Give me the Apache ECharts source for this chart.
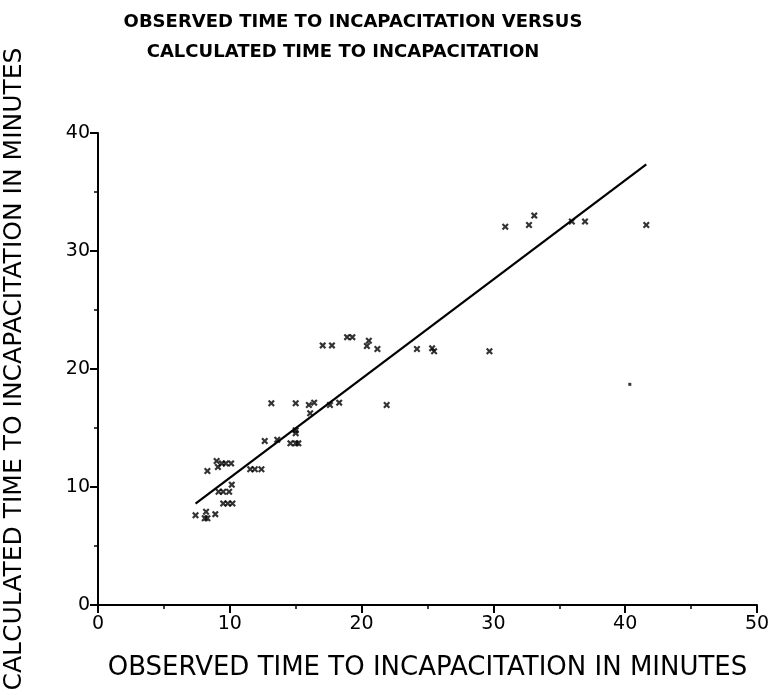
<!DOCTYPE html>
<html>
<head>
<meta charset="utf-8">
<script src="https://cdn.jsdelivr.net/npm/echarts@6/dist/echarts.min.js"></script>
<style>html,body{margin:0;padding:0;background:#fff}#c{width:772px;height:700px}</style>
</head>
<body>
<div id="c"></div>
<script>
// Observed (x) and calculated (y) times to incapacitation, minutes
var observed = [7.4, 8.1, 8.2, 8.3, 8.9, 8.3, 9.0, 9.1, 9.4, 9.7, 10.1, 9.15, 9.5, 9.95, 10.15, 9.5, 9.85, 10.2,
  11.55, 11.9, 12.4, 12.65, 13.6, 13.15, 14.6, 15.0, 15.2, 15.0, 15.0, 15.0, 16.0, 16.4, 16.1, 17.6, 18.3, 21.9,
  17.05, 17.75, 18.9, 19.3, 20.55, 20.4, 21.2, 24.2, 25.35, 25.5, 29.7,
  30.9, 32.7, 33.1, 35.95, 36.95, 41.6];
var calculated = [7.6, 7.35, 7.9, 11.35, 7.7, 7.35, 12.2, 11.7, 12.0, 12.0, 12.0, 9.6, 9.6, 9.6, 10.2, 8.6, 8.6, 8.6,
  11.5, 11.5, 11.5, 13.9, 14.0, 17.1, 13.7, 13.7, 13.7, 14.8, 14.55, 17.1, 16.95, 17.15, 16.25, 16.95, 17.15, 16.95,
  22.0, 22.0, 22.7, 22.7, 22.4, 21.95, 21.7, 21.7, 21.75, 21.5, 21.5,
  32.05, 32.2, 33.0, 32.5, 32.5, 32.2];
// fitted regression line end points
var fitX = [7.4, 41.6];
var fitY = [8.6, 37.35];
// stray mark
var speckX = [40.35];
var speckY = [18.7];
var xTicks = [0, 10, 20, 30, 40, 50];
var yTicks = [0, 10, 20, 30, 40];

var FONT = '"DejaVu Sans", "Liberation Sans", Arial, sans-serif';
var cross = 'path://M0,2.2L2.2,0L5,2.8L7.8,0L10,2.2L7.2,5L10,7.8L7.8,10L5,7.2L2.2,10L0,7.8L2.8,5Z';

function pairs(xs, ys) { return xs.map(function (v, i) { return [v, ys[i]]; }); }

var chart = echarts.init(document.getElementById('c'), null, {renderer: 'canvas'});
chart.setOption({
  animation: false,
  backgroundColor: '#fff',
  title: [
    {text: 'OBSERVED TIME TO INCAPACITATION VERSUS', left: 348, top: 8, textAlign: 'center',
     textStyle: {fontFamily: FONT, fontSize: 18, fontWeight: 'bold', color: '#000'}},
    {text: 'CALCULATED TIME TO INCAPACITATION', left: 338, top: 38, textAlign: 'center',
     textStyle: {fontFamily: FONT, fontSize: 18, fontWeight: 'bold', color: '#000'}}
  ],
  grid: {left: 98, right: 15, top: 133, bottom: 95, outerBoundsMode: 'none', containLabel: false},
  xAxis: {
    type: 'value', min: xTicks[0], max: xTicks[xTicks.length - 1], interval: 10,
    name: 'OBSERVED TIME TO INCAPACITATION IN MINUTES', nameLocation: 'middle', nameGap: 50,
    nameTextStyle: {fontFamily: FONT, fontSize: 26, color: '#000'},
    axisLine: {show: true, onZero: false, lineStyle: {color: '#000', width: 2}},
    axisTick: {show: true, length: 8, lineStyle: {color: '#000', width: 2}},
    minorTick: {show: true, splitNumber: 2, length: 4, lineStyle: {color: '#000', width: 1.5}},
    axisLabel: {fontFamily: FONT, fontSize: 19, color: '#000', margin: 10},
    splitLine: {show: false}
  },
  yAxis: {
    type: 'value', min: yTicks[0], max: yTicks[yTicks.length - 1], interval: 10,
    name: 'CALCULATED TIME TO INCAPACITATION IN MINUTES', nameLocation: 'middle', nameGap: 71,
    nameRotate: 90,
    nameTextStyle: {fontFamily: FONT, fontSize: 25, color: '#000'},
    axisLine: {show: true, onZero: false, lineStyle: {color: '#000', width: 2}},
    axisTick: {show: true, length: 8, lineStyle: {color: '#000', width: 2}},
    minorTick: {show: true, splitNumber: 2, length: 4, lineStyle: {color: '#000', width: 1.5}},
    axisLabel: {fontFamily: FONT, fontSize: 19, color: '#000', margin: 8},
    splitLine: {show: false}
  },
  series: [
    {type: 'scatter', data: pairs(observed, calculated), symbol: cross, symbolSize: 7,
     itemStyle: {color: '#000'}, silent: true},
    {type: 'line', data: pairs(fitX, fitY), symbol: 'none',
     lineStyle: {color: '#000', width: 2.2}, silent: true},
    {type: 'scatter', data: pairs(speckX, speckY), symbol: 'rect', symbolSize: 3,
     itemStyle: {color: '#000'}, silent: true}
  ]
});
</script>
</body>
</html>
